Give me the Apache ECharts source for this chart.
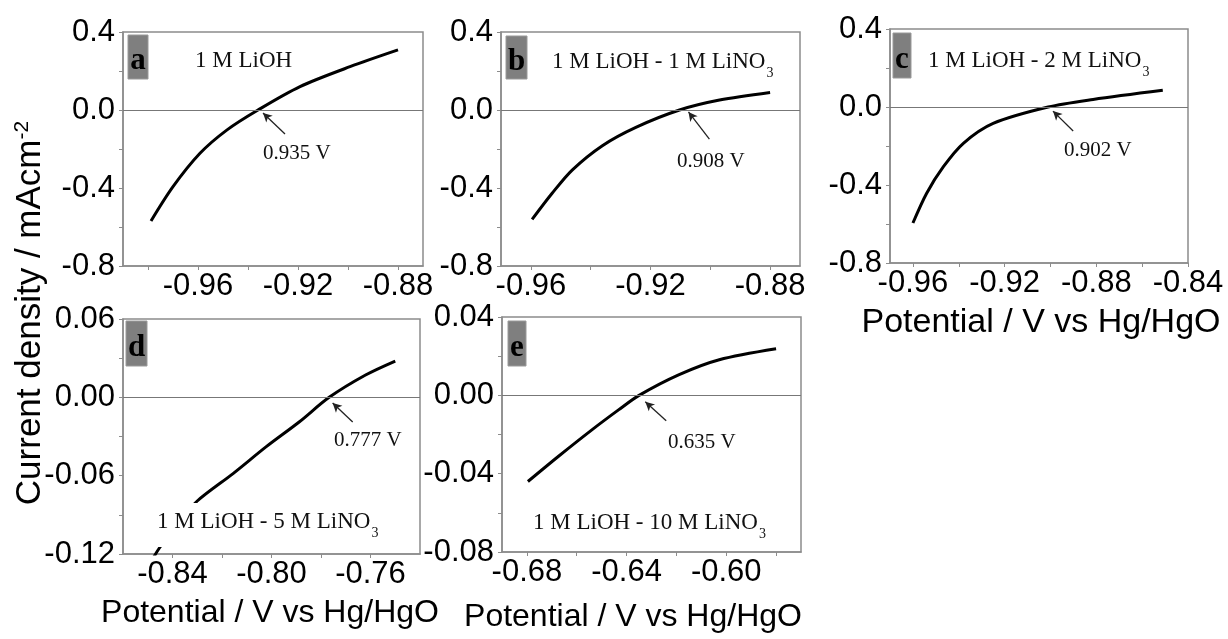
<!DOCTYPE html>
<html>
<head>
<meta charset="utf-8">
<script src="https://cdn.jsdelivr.net/npm/echarts@6/dist/echarts.min.js"></script>
<style>
  html, body { margin: 0; padding: 0; background: #fff; }
  #chart { width: 1228px; height: 639px; }
</style>
</head>
<body>
<div id="chart"></div>
<script>
// potential (V vs Hg/HgO) and current density (mA cm-2)
const potA = [-0.9788, -0.9700, -0.9592, -0.9485, -0.9360, -0.9192, -0.8992, -0.8800];
const curA = [-0.569, -0.393, -0.222, -0.103, 0.0, 0.120, 0.222, 0.308];

const potB = [-0.9596, -0.9529, -0.9462, -0.9361, -0.9249, -0.9103, -0.8969, -0.8800];
const curB = [-0.561, -0.427, -0.308, -0.183, -0.089, 0.0, 0.051, 0.090];

const potC = [-0.9600, -0.9540, -0.9467, -0.9380, -0.9250, -0.9010, -0.8814, -0.8510];
const curC = [-0.595, -0.442, -0.306, -0.186, -0.084, 0.0, 0.039, 0.086];

const potD = [-0.8490, -0.8453, -0.8380, -0.8300, -0.8154, -0.8021, -0.7887, -0.7767, -0.7620, -0.7500];
const curD = [-0.127, -0.1154, -0.097, -0.0794, -0.0582, -0.0378, -0.0187, 0.0, 0.0171, 0.0278];

const potE = [-0.6796, -0.6673, -0.6538, -0.6431, -0.6350, -0.6189, -0.6028, -0.5800];
const curE = [-0.044, -0.0311, -0.0175, -0.0073, 0.0, 0.0106, 0.0182, 0.0238];

// tick labels and tick marks
const xLabAB = [-0.96, -0.92, -0.88];
const xLabC = [-0.96, -0.92, -0.88, -0.84];
const xLabD = [-0.84, -0.80, -0.76];
const xLabE = [-0.68, -0.64, -0.60];
const xTickA = [-0.98, -0.96, -0.94, -0.92, -0.90, -0.88];
const xTickB = [-0.96, -0.94, -0.92, -0.90, -0.88];
const xTickC = [-0.96, -0.94, -0.92, -0.90, -0.88, -0.86, -0.84];
const xTickD = [-0.84, -0.82, -0.80, -0.78, -0.76];
const xTickE = [-0.68, -0.66, -0.64, -0.62, -0.60, -0.58];
const yLabABC = [0.4, 0.0, -0.4, -0.8];
const yTickABC = [0.4, 0.2, 0.0, -0.2, -0.4, -0.6, -0.8];
const yLabD = [0.06, 0.0, -0.06, -0.12];
const yTickD = [0.06, 0.03, 0.0, -0.03, -0.06, -0.09, -0.12];
const yLabE = [0.04, 0.0, -0.04, -0.08];
const yTickE = [0.04, 0.02, 0.0, -0.02, -0.04, -0.06, -0.08];

// onset potentials marked with arrows [tail, tip]
const arrowA = [[-0.9252, -0.123], [-0.934, -0.015]];
const arrowB = [[-0.9003, -0.149], [-0.9073, -0.010]];
const arrowC = [[-0.8901, -0.123], [-0.8989, -0.021]];
const arrowD = [[-0.7672, -0.0189], [-0.7753, -0.0044]];
const arrowE = [[-0.6241, -0.0130], [-0.6325, -0.0033]];

const grey = '#8c8c8c';
const sans = 'Liberation Sans';
const serif = 'Liberation Serif';

const grids = [
  { left: 123, top: 32, width: 300, height: 234 },
  { left: 501, top: 32, width: 299, height: 234 },
  { left: 890, top: 29, width: 298, height: 234 },
  { left: 123, top: 319, width: 297, height: 235 },
  { left: 502, top: 317, width: 299, height: 235 }
].map(g => Object.assign(g, { show: true, borderColor: grey, borderWidth: 1.5 }));

function xAxisFor(i, min, max, labels, ticks) {
  return {
    gridIndex: i, type: 'value', min: min, max: max,
    axisLine: { show: true, onZero: false, lineStyle: { color: grey, width: 1.5 } },
    axisTick: { show: true, customValues: ticks, length: 4, lineStyle: { color: grey } },
    axisLabel: { customValues: labels, margin: 5, fontSize: 31, fontFamily: sans, color: '#000',
      formatter: v => v.toFixed(2) },
    splitLine: { show: false }
  };
}

function yAxisFor(i, min, max, labels, ticks, dec) {
  return {
    gridIndex: i, type: 'value', min: min, max: max,
    axisLine: { show: true, onZero: false, lineStyle: { color: grey, width: 1.5 } },
    axisTick: { show: true, customValues: ticks, length: 4, lineStyle: { color: grey } },
    axisLabel: { customValues: labels, margin: 8, fontSize: 31, fontFamily: sans, color: '#000',
      formatter: v => v.toFixed(dec) },
    splitLine: { show: false }
  };
}

function curve(i, xs, ys, arrow) {
  return {
    type: 'line', xAxisIndex: i, yAxisIndex: i,
    data: xs.map((x, k) => [x, ys[k]]),
    showSymbol: false, smooth: 0.3, clip: true,
    lineStyle: { color: '#000', width: 3 },
    markLine: {
      silent: true, symbol: ['none', 'none'], animation: false,
      label: { show: false },
      data: [
        { yAxis: 0, lineStyle: { color: '#777', width: 1.2, type: 'solid' } },
        [
          { coord: arrow[0], symbol: 'none', lineStyle: { color: '#222', width: 1.3, type: 'solid' } },
          { coord: arrow[1], symbol: 'arrow', symbolSize: [7, 9], lineStyle: { color: '#222', width: 1.3, type: 'solid' } }
        ]
      ]
    }
  };
}

function tag(letter, x, y, w, h) {
  return [
    { type: 'rect', z: 100, shape: { x: x, y: y, width: w, height: h },
      style: { fill: '#7f7f7f', stroke: '#9a9a9a', lineWidth: 1 } },
    { type: 'text', z: 101, x: x + w / 2, y: y + h / 2 + 4,
      style: { text: letter, fontFamily: serif, fontWeight: 'bold', fontSize: 31, fill: '#000',
        align: 'center', verticalAlign: 'middle' } }
  ];
}

function note(text, x, y, size) {
  return { type: 'text', z: 101, x: x, y: y,
    style: { text: text, fontFamily: serif, fontSize: size, fill: '#111',
      align: 'left', verticalAlign: 'middle' } };
}

function salt(main, x, y) {
  return { type: 'text', z: 101, x: x, y: y,
    style: {
      text: '{m|' + main + '}{s|3}', align: 'left', verticalAlign: 'middle',
      rich: {
        m: { fontFamily: serif, fontSize: 23, fill: '#111' },
        s: { fontFamily: serif, fontSize: 14, fill: '#111', padding: [22, 0, 0, 1] }
      }
    } };
}

function title(text, x, y, size) {
  return { type: 'text', z: 101, x: x, y: y,
    style: { text: text, fontFamily: sans, fontSize: size, fill: '#000',
      align: 'center', verticalAlign: 'middle' } };
}

const chart = echarts.init(document.getElementById('chart'));
chart.setOption({
  animation: false,
  backgroundColor: '#fff',
  grid: grids,
  xAxis: [
    xAxisFor(0, -0.99, -0.87, xLabAB, xTickA),
    xAxisFor(1, -0.97, -0.87, xLabAB, xTickB),
    xAxisFor(2, -0.97, -0.84, xLabC, xTickC),
    xAxisFor(3, -0.86, -0.74, xLabD, xTickD),
    xAxisFor(4, -0.69, -0.57, xLabE, xTickE)
  ],
  yAxis: [
    yAxisFor(0, -0.8, 0.4, yLabABC, yTickABC, 1),
    yAxisFor(1, -0.8, 0.4, yLabABC, yTickABC, 1),
    yAxisFor(2, -0.8, 0.4, yLabABC, yTickABC, 1),
    yAxisFor(3, -0.12, 0.06, yLabD, yTickD, 2),
    yAxisFor(4, -0.08, 0.04, yLabE, yTickE, 2)
  ],
  series: [
    curve(0, potA, curA, arrowA),
    curve(1, potB, curB, arrowB),
    curve(2, potC, curC, arrowC),
    curve(3, potD, curD, arrowD),
    curve(4, potE, curE, arrowE)
  ],
  graphic: [].concat(
    tag('a', 128, 35, 20, 44),
    tag('b', 506, 36, 21, 43),
    tag('c', 893, 33, 18, 45),
    tag('d', 126, 321, 21, 45),
    tag('e', 508, 321, 18, 45),
    [
      note('1 M LiOH', 195, 61, 23),
      salt('1 M LiOH - 1 M LiNO', 552, 62),
      salt('1 M LiOH - 2 M LiNO', 928, 61),
      { type: 'rect', z: 99, shape: { x: 150, y: 503, width: 244, height: 44 }, style: { fill: '#fff' } },
      salt('1 M LiOH - 5 M LiNO', 157, 522),
      salt('1 M LiOH - 10 M LiNO', 533, 523),
      note('0.935 V', 263, 153, 21),
      note('0.908 V', 677, 161, 21),
      note('0.902 V', 1064, 150, 21),
      note('0.777 V', 334, 440, 21),
      note('0.635 V', 668, 442, 21),
      title('Potential / V vs Hg/HgO', 1041, 323, 34),
      title('Potential / V vs Hg/HgO', 270, 613, 32),
      title('Potential / V vs Hg/HgO', 633, 617, 32),
      { type: 'text', z: 101, x: 30, y: 313, rotation: Math.PI / 2,
        style: {
          text: '{t|Current density / mAcm}{p|-2}', align: 'center', verticalAlign: 'middle',
          rich: {
            t: { fontFamily: sans, fontSize: 35, fill: '#000' },
            p: { fontFamily: sans, fontSize: 21, fill: '#000', padding: [0, 0, 16, 0] }
          }
        } }
    ]
  )
});
</script>
</body>
</html>
